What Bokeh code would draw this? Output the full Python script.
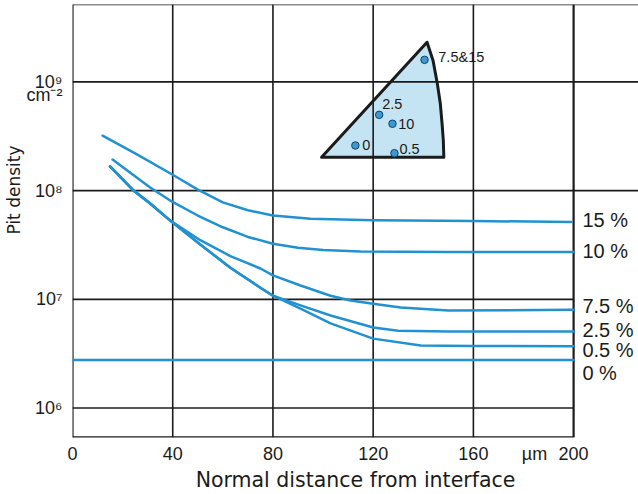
from bokeh.plotting import figure
from bokeh.models import Range1d, FixedTicker, Title
from bokeh.embed import file_html
from bokeh.resources import INLINE
from bokeh.core.properties import value

# ---------------- data ----------------
x_ticks = [0, 40, 80, 120, 160, 200]
y_ticks = [1e6, 1e7, 1e8, 1e9]
y_tick_labels = ["10⁶", "10⁷", "10⁸", "10⁹"]
x_end = 200  # right frame of the drawing (µm)
x_unit_label = "µm"
y_unit_label = "cm⁻²"

series_names = ["15 %", "10 %", "7.5 %", "2.5 %", "0.5 %", "0 %"]

x15 = [12, 25, 40, 50, 60, 70, 80, 95, 120, 160, 199]
y15 = [3.2e8, 2.2e8, 1.4e8, 1.02e8, 7.8e7, 6.6e7, 5.9e7, 5.5e7, 5.35e7, 5.25e7, 5.15e7]

x10 = [16, 24, 31, 39, 50, 60, 70, 80, 90, 100, 115, 150, 200]
y10 = [1.93e8, 1.41e8, 1.07e8, 8.1e7, 5.9e7, 4.6e7, 3.75e7, 3.25e7, 2.98e7, 2.84e7, 2.75e7, 2.72e7, 2.72e7]

x75 = [15, 24, 31, 39, 51, 63, 75, 80, 91, 103, 111, 120, 131, 150, 200]
y75 = [1.67e8, 1.02e8, 7.6e7, 5.3e7, 3.5e7, 2.5e7, 1.92e7, 1.66e7, 1.34e7, 1.08e7, 9.75e6, 9.1e6, 8.4e6, 7.9e6, 8.0e6]

x25 = [15, 24, 31, 39, 51, 63, 75, 80, 91, 103, 120, 130, 150, 200]
y25 = [1.67e8, 1.02e8, 7.6e7, 5.3e7, 3.2e7, 1.95e7, 1.28e7, 1.08e7, 8.8e6, 7.1e6, 5.5e6, 5.15e6, 5.05e6, 5.05e6]

x05 = [15, 24, 31, 39, 51, 63, 75, 80, 91, 103, 120, 139, 160, 200]
y05 = [1.67e8, 1.02e8, 7.6e7, 5.3e7, 3.2e7, 1.95e7, 1.28e7, 1.08e7, 8.2e6, 6.0e6, 4.35e6, 3.76e6, 3.72e6, 3.7e6]

x0 = [0, 200]
y0 = [2.77e6, 2.77e6]

# label positions for the curve names (right of the frame)
label_x = 203.5
label_y = [5.42e7, 2.81e7, 8.77e6, 5.27e6, 3.45e6, 2.12e6]

# positions of the unit labels along the axes
x_unit_pos = 184.4
y_unit_pos = 10**8.875

# inset: triangle outline (x in µm, y in cm^-2 of the main axes)
tri_x = [99.4, 141.5, 143.9, 145.6, 146.8, 147.5, 148.0, 148.2]
tri_y = [10**8.307, 10**9.365, 10**9.197, 10**8.985, 10**8.801, 10**8.617, 10**8.461, 10**8.307]
inset_names = ["7.5&15", "2.5", "10", "0", "0.5"]
inset_x = [140.5, 122.4, 127.7, 112.9, 128.5]
inset_y = [10**9.203, 10**8.697, 10**8.615, 10**8.415, 10**8.344]
inset_lx = [146.0, 123.6, 130.0, 115.6, 130.5]
inset_ly = [10**9.227, 10**8.801, 10**8.617, 10**8.415, 10**8.387]

# ---------------- figure ----------------
X_MAX = 225.9
Y_MIN = 10**5.729
Y_MAX = 10**9.712

p = figure(width=638, height=494, output_backend="svg", toolbar_location=None,
           y_axis_type="log",
           x_range=Range1d(0, X_MAX), y_range=Range1d(Y_MIN, Y_MAX),
           min_border_left=72, min_border_right=0, min_border_top=4, min_border_bottom=57)
p.outline_line_color = None
p.xgrid.visible = False
p.ygrid.visible = False
p.background_fill_color = "white"
p.border_fill_color = "white"

INK = "#1b1b1b"
BLUE = "#2191d0"
NUM_FONT = "Liberation Sans"
WORD_FONT = "DejaVu Sans"

# axes
p.xaxis.ticker = FixedTicker(ticks=x_ticks + [x_unit_pos])
p.xaxis.major_label_overrides = {x_unit_pos: x_unit_label}
p.xaxis.axis_line_color = None
p.xaxis.major_tick_line_color = None
p.xaxis.minor_tick_line_color = None
p.xaxis.major_tick_out = 0
p.xaxis.major_tick_in = 0
p.xaxis.major_label_standoff = 6
p.xaxis.major_label_text_font = NUM_FONT
p.xaxis.major_label_text_font_size = "18px"
p.xaxis.major_label_text_color = INK
p.xaxis.axis_label = "Normal distance from interface"
p.xaxis.axis_label_text_font = WORD_FONT
p.xaxis.axis_label_text_font_size = "20.5px"
p.xaxis.axis_label_text_font_style = "normal"
p.xaxis.axis_label_text_color = INK
p.xaxis.axis_label_standoff = 1

y_overrides = dict(zip(y_ticks, y_tick_labels))
y_overrides[y_unit_pos] = y_unit_label
p.yaxis.ticker = FixedTicker(ticks=y_ticks + [y_unit_pos])
p.yaxis.major_label_overrides = y_overrides
p.yaxis.axis_line_color = None
p.yaxis.major_tick_line_color = None
p.yaxis.minor_tick_line_color = None
p.yaxis.major_tick_out = 0
p.yaxis.major_tick_in = 0
p.yaxis.major_label_standoff = 10
p.yaxis.major_label_text_font = NUM_FONT
p.yaxis.major_label_text_font_size = "18px"
p.yaxis.major_label_text_color = INK

ytitle = Title(text="Pit density", align="right", offset=141, text_font=WORD_FONT,
               text_font_size="17px", text_font_style="normal", text_color=INK)
for attr, val in (("standoff", 0), ("padding", 0)):
    try:
        setattr(ytitle, attr, val)
    except Exception:
        pass
p.add_layout(ytitle, "left")

# inset fill (under the grid)
p.patch(tri_x, tri_y, fill_color="#c4e4f4", line_color=None)

# grid & frame
vx = [t for t in x_ticks if 0 < t < x_end]
p.segment(x0=vx, y0=[Y_MIN] * len(vx), x1=vx, y1=[Y_MAX] * len(vx), line_color=INK, line_width=1.6)
p.segment(x0=[0, x_end], y0=[Y_MIN, Y_MIN], x1=[0, x_end], y1=[Y_MAX, Y_MAX], line_color=INK, line_width=2.2)
long_h = [t for t in y_ticks if t >= 1e8] + [Y_MAX]
short_h = [t for t in y_ticks if t < 1e8]
p.segment(x0=[0] * len(long_h), y0=long_h, x1=[X_MAX] * len(long_h), y1=long_h, line_color=INK, line_width=1.6)
p.segment(x0=[0] * len(short_h), y0=short_h, x1=[x_end] * len(short_h), y1=short_h, line_color=INK, line_width=1.6)
p.segment(x0=[0], y0=[Y_MIN], x1=[x_end], y1=[Y_MIN], line_color=INK, line_width=2.4)

# curves
for xs, ys in [(x15, y15), (x10, y10), (x75, y75), (x25, y25), (x05, y05), (x0, y0)]:
    p.line(xs, ys, line_color=BLUE, line_width=2.5, line_join="round", line_cap="round")

p.text(x=[label_x] * len(series_names), y=label_y, text=series_names,
       text_font=value(NUM_FONT), text_font_size="20px", text_color=INK,
       text_align="left", text_baseline="middle")

# inset outline, dots, labels
p.patch(tri_x, tri_y, fill_color=None, line_color=INK, line_width=3, line_join="round")
p.scatter(inset_x, inset_y, size=7.5, fill_color="#3c99d4", line_color="#14435f", line_width=1)
p.text(x=inset_lx, y=inset_ly, text=inset_names, text_font=value(NUM_FONT), text_font_size="14.5px",
       text_color=INK, text_align="left", text_baseline="middle")

open("out.html", "w").write(file_html(p, INLINE))
